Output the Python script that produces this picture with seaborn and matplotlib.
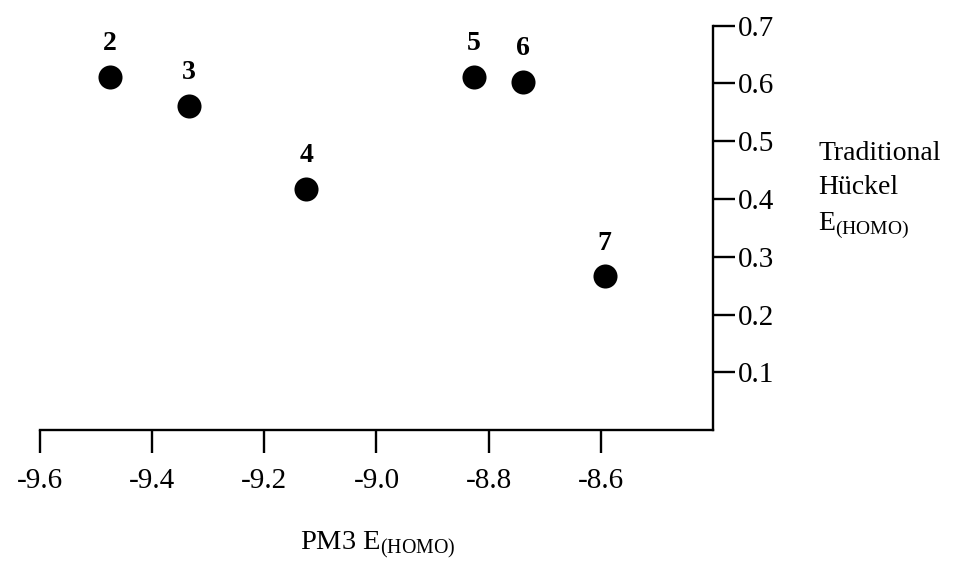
import seaborn as sns
import matplotlib.pyplot as plt
import pandas as pd

# compound numbers and their HOMO energies
compounds = ["2", "3", "4", "5", "6", "7"]
pm3_homo = [-9.475, -9.334, -9.125, -8.827, -8.738, -8.593]
huckel_homo = [0.612, 0.561, 0.417, 0.612, 0.602, 0.266]

x_ticks = [-9.6, -9.4, -9.2, -9.0, -8.8, -8.6]
x_labels = ["-9.6", "-9.4", "-9.2", "-9.0", "-8.8", "-8.6"]
y_ticks = [0.1, 0.2, 0.3, 0.4, 0.5, 0.6, 0.7]
y_labels = ["0.1", "0.2", "0.3", "0.4", "0.5", "0.6", "0.7"]

df = pd.DataFrame({"pm3": pm3_homo, "huckel": huckel_homo, "label": compounds})

sns.set_style("white", {"axes.edgecolor": "black", "text.color": "black",
                        "xtick.color": "black", "ytick.color": "black"})
plt.rcParams['font.family'] = ['Liberation Serif', 'DejaVu Serif']
plt.rcParams['mathtext.fontset'] = 'custom'
plt.rcParams['mathtext.rm'] = 'Liberation Serif'

fig = plt.figure(figsize=(9.57, 5.79), dpi=100)
ax = fig.add_axes([0.0418, 0.2573, 0.7032, 0.6983])

sns.scatterplot(data=df, x="pm3", y="huckel", ax=ax, color="black",
                s=300, edgecolor="black", linewidth=0, legend=False, clip_on=False)

for _, r in df.iterrows():
    ax.annotate(r["label"], (r["pm3"], r["huckel"]), xytext=(0, 24),
                textcoords="offset points", ha="center", va="center",
                fontsize=20, fontweight="bold", color="black")

ax.set_xlim(-9.6, -8.4)
ax.set_ylim(0, 0.7)

ax.spines["top"].set_visible(False)
ax.spines["left"].set_visible(False)
ax.spines["bottom"].set_linewidth(1.7)
ax.spines["right"].set_linewidth(1.7)

ax.yaxis.tick_right()
ax.set_xticks(x_ticks)
ax.set_xticklabels(x_labels)
ax.set_yticks(y_ticks)
ax.set_yticklabels(y_labels)
ax.tick_params(axis="x", direction="out", length=16.5, width=1.7, pad=11,
               labelsize=21, bottom=True, colors="black")
ax.tick_params(axis="y", direction="out", length=16, width=1.7, pad=2,
               labelsize=21, right=True, left=False, colors="black")
ax.set_xlabel("")
ax.set_ylabel("")

fig.text(0.3135, 0.058, r"PM3 E$_{\rm (HOMO)}$", fontsize=20.5, ha="left",
         va="center", color="black")
fig.text(0.855, 0.67, "Traditional\nHückel\nE$_{\\rm (HOMO)}$", fontsize=20,
         ha="left", va="center", linespacing=1.5, color="black")

fig.savefig("out.png", dpi=100)
